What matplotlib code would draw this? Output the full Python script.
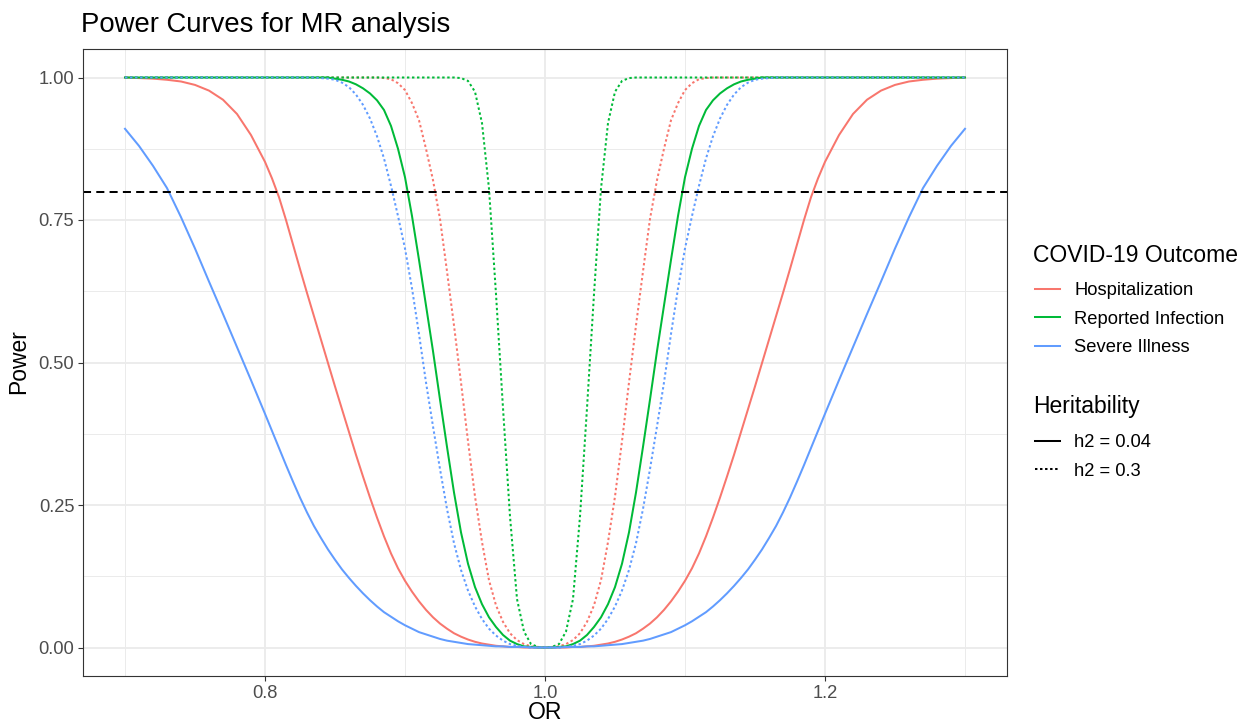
import matplotlib

matplotlib.use("Agg")
import matplotlib.pyplot as plt
from matplotlib.lines import Line2D
from matplotlib.ticker import MultipleLocator

# odds ratio grid the curves were read at (finer in the middle where curves are steep)
or_values = [
	0.70, 0.71, 0.72, 0.73, 0.74, 0.75, 0.76, 0.77, 0.78, 0.79,
	0.800, 0.805, 0.810, 0.815, 0.820, 0.825, 0.830, 0.835, 0.840, 0.845,
	0.850, 0.855, 0.860, 0.865, 0.870, 0.875, 0.880, 0.885, 0.890, 0.895,
	0.900, 0.905, 0.910, 0.915, 0.920, 0.925, 0.930, 0.935, 0.940, 0.945,
	0.950, 0.955, 0.960, 0.965, 0.970, 0.975, 0.980, 0.985, 0.990, 0.995,
	1.000,
	1.005, 1.010, 1.015, 1.020, 1.025, 1.030, 1.035, 1.040, 1.045, 1.050,
	1.055, 1.060, 1.065, 1.070, 1.075, 1.080, 1.085, 1.090, 1.095, 1.100,
	1.105, 1.110, 1.115, 1.120, 1.125, 1.130, 1.135, 1.140, 1.145, 1.150,
	1.155, 1.160, 1.165, 1.170, 1.175, 1.180, 1.185, 1.190, 1.195, 1.200,
	1.21, 1.22, 1.23, 1.24, 1.25, 1.26, 1.27, 1.28, 1.29, 1.30,
]

hosp_h2_004 = [
	1.000, 0.999, 0.998, 0.996, 0.993, 0.987, 0.977, 0.961, 0.936, 0.899,
	0.852, 0.823, 0.790, 0.750, 0.707, 0.664, 0.622, 0.581, 0.540, 0.499,
	0.458, 0.418, 0.378, 0.338, 0.300, 0.263, 0.228, 0.195, 0.165, 0.139,
	0.117, 0.098, 0.081, 0.066, 0.053, 0.042, 0.033, 0.025, 0.019, 0.014,
	0.010, 0.007, 0.005, 0.003, 0.002, 0.001, 0.001, 0.000, 0.000, 0.000,
	0.000,
	0.000, 0.000, 0.000, 0.001, 0.001, 0.002, 0.003, 0.005, 0.007, 0.010,
	0.014, 0.019, 0.025, 0.033, 0.042, 0.053, 0.066, 0.081, 0.098, 0.117,
	0.139, 0.165, 0.195, 0.228, 0.263, 0.300, 0.338, 0.378, 0.418, 0.458,
	0.499, 0.540, 0.581, 0.622, 0.664, 0.707, 0.750, 0.790, 0.823, 0.852,
	0.899, 0.936, 0.961, 0.977, 0.987, 0.993, 0.996, 0.998, 0.999, 1.000,
]
hosp_h2_03 = (
	[1.0] * 26 + [
	1.000, 0.999, 0.997, 0.990, 0.978, 0.955, 0.925, 0.875, 0.820, 0.752,
	0.660, 0.565, 0.465, 0.362, 0.265, 0.185, 0.118, 0.074, 0.045, 0.025,
	0.013, 0.006, 0.002, 0.001,
	0.000,
	0.001, 0.002, 0.006, 0.013, 0.025, 0.045, 0.074, 0.118, 0.185, 0.265,
	0.362, 0.465, 0.565, 0.660, 0.752, 0.820, 0.875, 0.925, 0.955, 0.978,
	0.990, 0.997, 0.999, 1.000] + [1.0] * 26
)
rep_h2_004 = (
	[1.0] * 20 + [
	0.998, 0.996, 0.993, 0.988, 0.981, 0.972, 0.960, 0.943, 0.915, 0.875,
	0.825, 0.757, 0.680, 0.600, 0.520, 0.435, 0.352, 0.272, 0.202, 0.147,
	0.106, 0.076, 0.053, 0.036, 0.022, 0.012, 0.006, 0.002, 0.001, 0.000,
	0.000,
	0.000, 0.001, 0.002, 0.006, 0.012, 0.022, 0.036, 0.053, 0.076, 0.106,
	0.147, 0.202, 0.272, 0.352, 0.435, 0.520, 0.600, 0.680, 0.757, 0.825,
	0.875, 0.915, 0.943, 0.960, 0.972, 0.981, 0.988, 0.993, 0.996, 0.998] + [1.0] * 20
)
rep_h2_03 = (
	[1.0] * 38 + [
	0.999, 0.994, 0.975, 0.920, 0.805, 0.620, 0.420, 0.230, 0.085, 0.028,
	0.006, 0.001,
	0.000,
	0.001, 0.006, 0.028, 0.085, 0.230, 0.420, 0.620, 0.805, 0.920, 0.975,
	0.994, 0.999] + [1.0] * 38
)
sev_h2_004 = [
	0.910, 0.880, 0.845, 0.806, 0.755, 0.700, 0.642, 0.585, 0.527, 0.469,
	0.410, 0.380, 0.350, 0.320, 0.291, 0.263, 0.237, 0.213, 0.192, 0.172,
	0.154, 0.137, 0.122, 0.108, 0.095, 0.083, 0.072, 0.062, 0.054, 0.046,
	0.039, 0.033, 0.027, 0.023, 0.019, 0.015, 0.012, 0.010, 0.008, 0.006,
	0.005, 0.004, 0.003, 0.002, 0.002, 0.001, 0.001, 0.001, 0.000, 0.000,
	0.000,
	0.000, 0.000, 0.001, 0.001, 0.001, 0.002, 0.002, 0.003, 0.004, 0.005,
	0.006, 0.008, 0.010, 0.012, 0.015, 0.019, 0.023, 0.027, 0.033, 0.039,
	0.046, 0.054, 0.062, 0.072, 0.083, 0.095, 0.108, 0.122, 0.137, 0.154,
	0.172, 0.192, 0.213, 0.237, 0.263, 0.291, 0.320, 0.350, 0.380, 0.410,
	0.469, 0.527, 0.585, 0.642, 0.700, 0.755, 0.806, 0.845, 0.880, 0.910,
]
sev_h2_03 = (
	[1.0] * 18 + [
	0.999, 0.998, 0.996, 0.991, 0.983, 0.970, 0.952, 0.928, 0.897, 0.858,
	0.810, 0.757, 0.700, 0.630, 0.550, 0.465, 0.388, 0.313, 0.243, 0.183,
	0.136, 0.100, 0.072, 0.050, 0.033, 0.021, 0.012, 0.006, 0.003, 0.001,
	0.000, 0.000,
	0.000,
	0.000, 0.000, 0.001, 0.003, 0.006, 0.012, 0.021, 0.033, 0.050, 0.072,
	0.100, 0.136, 0.183, 0.243, 0.313, 0.388, 0.465, 0.550, 0.630, 0.700,
	0.757, 0.810, 0.858, 0.897, 0.928, 0.952, 0.970, 0.983, 0.991, 0.996,
	0.998, 0.999] + [1.0] * 18
)

outcomes = ["Hospitalization", "Reported Infection", "Severe Illness"]
heritabilities = ["h2 = 0.04", "h2 = 0.3"]
power_threshold = 0.8

series = {
	("Hospitalization", "h2 = 0.04"): hosp_h2_004,
	("Hospitalization", "h2 = 0.3"): hosp_h2_03,
	("Reported Infection", "h2 = 0.04"): rep_h2_004,
	("Reported Infection", "h2 = 0.3"): rep_h2_03,
	("Severe Illness", "h2 = 0.04"): sev_h2_004,
	("Severe Illness", "h2 = 0.3"): sev_h2_03,
}

colors = {"Hospitalization": "#F8766D", "Reported Infection": "#00BA38", "Severe Illness": "#619CFF"}
dotted = (0, (1.2, 1.3))
styles = {"h2 = 0.04": "-", "h2 = 0.3": dotted}

plt.rcParams["font.family"] = ["Liberation Sans", "DejaVu Sans"]

W, H = 1239, 723
fig = plt.figure(figsize=(W / 100, H / 100), dpi=100)
ax = fig.add_axes([83 / W, 1 - 676 / H, (1007 - 83) / W, (676 - 49) / H])

LW = 1.45
for outcome in outcomes:
	for h2 in heritabilities:
		ax.plot(or_values, series[(outcome, h2)], color=colors[outcome], linestyle=styles[h2],
			lw=LW, solid_joinstyle="round")

ax.axhline(power_threshold, color="black", lw=LW, linestyle=(0, (4, 2.6)))

ax.set_xlim(0.67, 1.33)
ax.set_ylim(-0.05, 1.05)
ax.xaxis.set_major_locator(MultipleLocator(0.2))
ax.xaxis.set_minor_locator(MultipleLocator(0.1))
ax.yaxis.set_major_locator(MultipleLocator(0.25))
ax.yaxis.set_minor_locator(MultipleLocator(0.125))
ax.xaxis.set_major_formatter(lambda v, p: f"{v:.1f}")
ax.yaxis.set_major_formatter(lambda v, p: f"{v:.2f}")

ax.grid(which="major", color="#EBEBEB", lw=1.3)
ax.grid(which="minor", color="#EBEBEB", lw=0.7)
ax.set_axisbelow(True)
for s in ax.spines.values():
	s.set_color("#333333")
	s.set_linewidth(0.8)
ax.tick_params(which="major", length=3.3, width=0.8, color="#333333", labelsize=13.2,
	labelcolor="#4D4D4D", pad=3)
ax.tick_params(which="minor", length=0)

fig.text(81 / W, 1 - 32 / H, "Power Curves for MR analysis", fontsize=19.8, ha="left", va="baseline")
fig.text(545 / W, 1 - 712.5 / H, "OR", fontsize=16.5, ha="center", va="center")
fig.text(19 / W, 1 - 362 / H, "Power", fontsize=16.5, ha="center", va="center", rotation=90)

# legends: titles drawn as text so their gap to the keys matches
fig.text(1033 / W, 1 - 262 / H, "COVID-19 Outcome", fontsize=16.5, ha="left", va="baseline")
fig.text(1033 / W, 1 - 413.5 / H, "Heritability", fontsize=16.5, ha="left", va="baseline")

outcome_handles = [Line2D([], [], color=colors[o], lw=LW) for o in outcomes]
h2_handles = [Line2D([], [], color="black", lw=LW, linestyle=styles[h]) for h in heritabilities]

leg_kw = dict(loc="upper left", frameon=False, fontsize=13.2, handlelength=1.38,
	handletextpad=0.76, labelspacing=0.63, borderpad=0, borderaxespad=0)
fig.legend(outcome_handles, outcomes, bbox_to_anchor=(1035 / W, 1 - 282 / H), **leg_kw)
fig.legend(h2_handles, heritabilities, bbox_to_anchor=(1035 / W, 1 - 434 / H), **leg_kw)

fig.savefig("out.png", dpi=100)
